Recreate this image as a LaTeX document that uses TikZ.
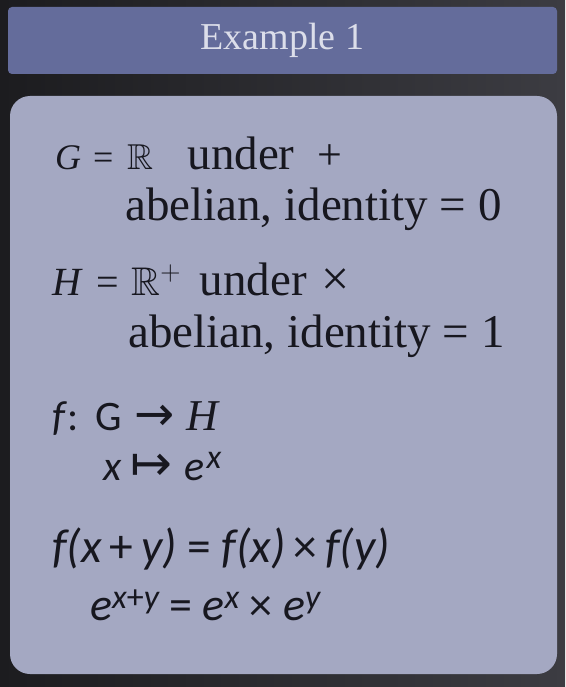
\RequirePackage{fix-cm}
\documentclass[tikz,border=0pt]{standalone}
\usepackage{fontspec}
\usepackage{xcolor}
\usepackage{amsmath}
\usepackage{amssymb}
\setmainfont{Liberation Serif}
\newfontfamily\carl{Carlito}
\newfontfamily\dejav{DejaVu Sans}
\definecolor{bgleft}{HTML}{1C1C1F}
\definecolor{bgright}{HTML}{3C3C42}
\definecolor{headblue}{HTML}{646C9B}
\definecolor{panelgray}{HTML}{A4A8C2}
\definecolor{inkdark}{HTML}{17171F}
\definecolor{titlegray}{HTML}{DCDEEA}
\newcommand{\upsc}[1]{\raisebox{12pt}{\fontsize{34}{36}\selectfont #1}}
\newcommand{\smtxt}[1]{{\fontsize{36}{40}\selectfont #1}}
\tikzset{
  textline/.style={anchor=base west,inner sep=0pt,text=inkdark,font=\fontsize{47}{52}\selectfont},
  sansline/.style={anchor=base west,inner sep=0pt,text=inkdark,font=\carl\fontsize{46}{52}\selectfont}
}

\begin{document}
\begin{tikzpicture}[x=1pt,y=-1pt]
    \useasboundingbox (0,0) rectangle (565,687);
    \shade[left color=bgleft,right color=bgright] (0,0) rectangle (565,687);
    \node[fill=headblue,rounded corners=4pt,minimum width=549pt,minimum height=67pt,inner sep=0pt,text=titlegray,font=\fontsize{38}{42}\selectfont] (title) at (282.5,40.5) {Example 1};
    \node[fill=panelgray,rounded corners=20pt,minimum width=547pt,minimum height=578pt,inner sep=0pt] (panel) at (283.5,385) {};

    \node[textline] (gdef) at (55,170) {\smtxt{\textit{G}\hspace{12pt}=\hspace{14pt}$\mathbb{R}$}\hspace{34pt}under\hspace{23pt}{\fontsize{44}{48}\selectfont +}};
    \node[textline] (gprop) at (125,220) {abelian, identity = 0};
    \node[textline] (hdef) at (52,295) {\smtxt{\fontsize{40}{44}\selectfont\textit{H}\hspace{14pt}=\hspace{12pt}$\mathbb{R}^{+}$}\hspace{19pt}under\hspace{14pt}{\fontsize{50}{54}\selectfont ×}};
    \node[textline] (hprop) at (128,347) {abelian, identity = 1};

    \node[sansline,font=\carl\fontsize{42}{48}\selectfont] (fmap) at (52,430) {\textit{f}:\hspace{17pt}G\hspace{13pt}{\dejav\fontsize{48}{48}\selectfont →}\hspace{11pt}{\rmfamily\itshape\fontsize{44}{48}\selectfont H}};
    \node[sansline,font=\carl\fontsize{42}{48}\selectfont] (xmap) at (103,480) {\textit{x}\hspace{9pt}{\dejav\fontsize{50}{50}\selectfont ↦}\hspace{12pt}\textit{e}\hspace{2pt}\upsc{\textit{x}}};
    \node[sansline,font=\carl\fontsize{47.5}{52}\selectfont] (hom) at (52,562) {\itshape f(x\,{\upshape +}\,y) {\upshape =} f(x)\,{\upshape ×}\,f(y)};
    \node[sansline] (expo) at (90,620) {\itshape e\upsc{x{\upshape +}y} {\upshape =} e\upsc{x} {\upshape ×} e\upsc{y}};
\end{tikzpicture}
\end{document}
